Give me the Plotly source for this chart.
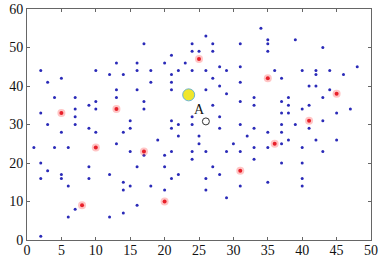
import plotly.graph_objects as go

# blue sensor nodes
blue_pts = [
    (2,44),(3,41),(5,42),(4,37),(7,37),(7,34),(7,32),(9,35),(10,36),(10,34),(10,44),(2,33),(3,30),(7,30),(5,28),(9,29),(10,28),
    (12,43),(13,46),(13,39),(13,37),(14,43),(14,28),(15,31),(15,29),(16,46),(16,44),(16,39),(17,51),(18,44),(18,41),(17,36),(17,34),
    (20,46),(21,48),(21,43),(21,41),(21,39),(22,44),(23,46),(24,51),(24,49),(25,49),(24,44),
    (21,31),(21,29),(22,30),(24,30),(24,32),(22,27),(19,26),
    (26,53),(27,51),(31,51),(34,55),(35,52),(35,51),(35,49),(39,52),(43,50),(27,49),
    (26,44),(28,45),(29,44),(31,45),(36,44),(40,44),(42,44),(42,43),(44,44),(48,45),(46,43),
    (37,42),(27,42),(31,41),(28,40),(26,39),(29,38),(41,40),(42,40),(44,39),(43,37),(33,37),(31,36),(33,35),(37,36),(38,37),(38,35),
    (37,33),(38,33),(40,34),(41,35),(47,34),(45,33),(27,35),
    (28,32),(28,29),(31,30),(33,29),(35,28),(37,28),(37,30),(39,30),(41,29),(43,31),(25,27),(32,27),(38,26),(42,26),(45,26),
    (1,24),(4,24),(6,24),(2,20),(3,18),(2,16),(5,17),(5,16),(6,14),(9,19),(9,16),(7,8),(6,6),(2,1),(13,25),(15,23),(17,22),(16,19),
    (12,17),(14,15),(14,13),(15,14),(18,14),(20,22),(20,19),(20,13),(16,9),(14,7),(12,6),(21,23),(24,23),(24,21),(25,25),(22,17),(21,16),
    (30,25),(37,25),(33,24),(35,24),(40,24),(26,23),(29,23),(31,23),(43,23),(33,21),(37,20),(40,20),(27,19),(28,17),(26,16),(40,16),
    (35,15),(31,14),(40,14),(26,13),(29,11),
]
blue_x = [p[0] for p in blue_pts]
blue_y = [p[1] for p in blue_pts]

# red anchor nodes
red_x = [5, 13, 25, 10, 17, 8, 20, 35, 45, 41, 36, 31]
red_y = [33, 34, 47, 24, 23, 9, 10, 42, 38, 31, 25, 18]

# yellow node
yellow_x = [23.5]
yellow_y = [37.7]

# unknown node A
a_x = [26]
a_y = [30.8]
a_label = "A"
a_label_x = 25.1
a_label_y = 33.9

x_ticks = [0, 5, 10, 15, 20, 25, 30, 35, 40, 45, 50]
y_ticks = [0, 10, 20, 30, 40, 50, 60]

fig = go.Figure()
fig.add_trace(go.Scatter(x=blue_x, y=blue_y, mode="markers",
                         marker=dict(size=3, color="#2a2ab8", line=dict(width=0))))
fig.add_trace(go.Scatter(x=red_x, y=red_y, mode="markers",
                         marker=dict(size=8, color="rgba(255,90,90,0.35)", line=dict(width=0))))
fig.add_trace(go.Scatter(x=red_x, y=red_y, mode="markers",
                         marker=dict(size=4, color="#e8202a", line=dict(width=0))))
fig.add_trace(go.Scatter(x=yellow_x, y=yellow_y, mode="markers",
                         marker=dict(size=12, color="#f0e62a", line=dict(width=1, color="#6ab4d0"))))
fig.add_trace(go.Scatter(x=a_x, y=a_y, mode="markers",
                         marker=dict(size=7, color="rgba(255,255,255,0)", line=dict(width=1, color="#333333"))))

fig.add_annotation(x=a_label_x, y=a_label_y, text=a_label, showarrow=False,
                   font=dict(family="Liberation Serif", size=14, color="#111111"))

axis_common = dict(showline=True, linecolor="#666666", linewidth=1, mirror="allticks",
                   ticks="inside", ticklen=3, tickcolor="#666666", showgrid=False, zeroline=False,
                   automargin=False,
                   tickfont=dict(family="Liberation Serif", size=14, color="#111111"))

fig.update_xaxes(range=[0, 50], tickvals=x_ticks, ticklabelstandoff=-3, **axis_common)
fig.update_yaxes(range=[0, 60], tickvals=y_ticks, ticklabelstandoff=0, **axis_common)

fig.update_layout(width=382, height=264, showlegend=False,
                  margin=dict(l=27, r=11, t=9, b=24),
                  paper_bgcolor="white", plot_bgcolor="white")

fig.write_html("out.html", config={"displayModeBar": False},
               post_script="document.body.style.margin='0';")
